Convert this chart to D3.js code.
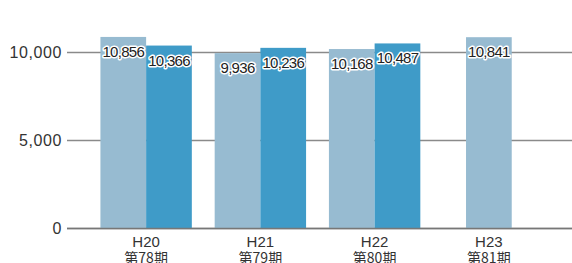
<!DOCTYPE html>
<html>
<head>
<meta charset="utf-8">
<script src="https://cdnjs.cloudflare.com/ajax/libs/d3/7.8.5/d3.min.js"></script>
<style>
  body { margin: 0; background: #fff; }
  svg { display: block; }
  text { font-family: "Liberation Sans", Arial, sans-serif; }
</style>
</head>
<body>
<div id="chart"></div>
<script>
var years = ['H20', 'H21', 'H22', 'H23'];
var periods = ['第78期', '第79期', '第80期', '第81期'];
var seriesA = [10856, 9936, 10168, 10841];
var seriesB = [10366, 10236, 10487, null];
var yTicks = [0, 5000, 10000];

var width = 572, height = 263;

var svg = d3.select('#chart').append('svg')
    .attr('width', width).attr('height', height);

var y = d3.scaleLinear().domain([0, 10000]).range([228, 52]);
var x = d3.scaleBand().domain(years).range([89, 546]).paddingInner(0.2).paddingOuter(0.1);

// gridlines
svg.append('g').selectAll('line').data(yTicks).enter().append('line')
    .attr('x1', 67).attr('x2', width)
    .attr('y1', function(d) { return y(d) + 0.5; })
    .attr('y2', function(d) { return y(d) + 0.5; })
    .attr('stroke', '#8a8a8a').attr('stroke-width', 1.3);

svg.append('g').selectAll('text').data(yTicks).enter().append('text')
    .attr('x', 62).attr('y', function(d) { return y(d) + 6; })
    .attr('text-anchor', 'end')
    .style('font-size', '16px').style('letter-spacing', '0.6px').attr('fill', '#333')
    .text(function(d) { return d3.format(',')(d); });

// bars
var rows = years.map(function(yr, i) {
    var list = [];
    var bw = x.bandwidth() / 2;
    if (seriesB[i] == null) {
        list.push({ key: yr, v: seriesA[i], x0: x(yr) + bw / 2, c: '#97bbd1' });
    } else {
        list.push({ key: yr, v: seriesA[i], x0: x(yr), c: '#97bbd1' });
        list.push({ key: yr, v: seriesB[i], x0: x(yr) + bw, c: '#3f9bc8' });
    }
    return list;
});
var bars = [].concat.apply([], rows);
var barW = x.bandwidth() / 2;

svg.append('g').selectAll('rect').data(bars).enter().append('rect')
    .attr('x', function(d) { return d.x0; })
    .attr('y', function(d) { return y(d.v); })
    .attr('width', barW)
    .attr('height', function(d) { return y(0) - y(d.v); })
    .attr('fill', function(d) { return d.c; });

// baseline on top
svg.append('line')
    .attr('x1', 67).attr('x2', width)
    .attr('y1', y(0) + 0.5).attr('y2', y(0) + 0.5)
    .attr('stroke', '#777').attr('stroke-width', 1.5);

// value labels (white halo)
var lbl = svg.append('g').selectAll('g').data(bars).enter().append('g');
lbl.append('text')
    .attr('x', function(d) { return d.x0 + barW / 2; })
    .attr('y', function(d) { return y(d.v) + 20; })
    .attr('text-anchor', 'middle')
    .style('font-size', '15px').style('letter-spacing', '-0.7px')
    .attr('fill', 'none').attr('stroke', '#fff').attr('stroke-width', 3).attr('stroke-linejoin', 'round')
    .text(function(d) { return d3.format(',')(d.v); });
lbl.append('text')
    .attr('x', function(d) { return d.x0 + barW / 2; })
    .attr('y', function(d) { return y(d.v) + 20; })
    .attr('text-anchor', 'middle')
    .style('font-size', '15px').style('letter-spacing', '-0.7px')
    .attr('fill', '#222')
    .text(function(d) { return d3.format(',')(d.v); });

// category labels
var cat = svg.append('g').selectAll('g').data(years).enter().append('g');
cat.append('text')
    .attr('x', function(d) { return x(d) + x.bandwidth() / 2; })
    .attr('y', 247)
    .attr('text-anchor', 'middle')
    .style('font-size', '15px').attr('fill', '#333')
    .text(function(d) { return d; });
cat.append('text')
    .attr('x', function(d) { return x(d) + x.bandwidth() / 2; })
    .attr('y', 263)
    .attr('text-anchor', 'middle')
    .style('font-size', '14px').attr('fill', '#333')
    .style('font-family', '"Noto Sans CJK JP", sans-serif')
    .text(function(d, i) { return periods[i]; });
</script>
</body>
</html>
